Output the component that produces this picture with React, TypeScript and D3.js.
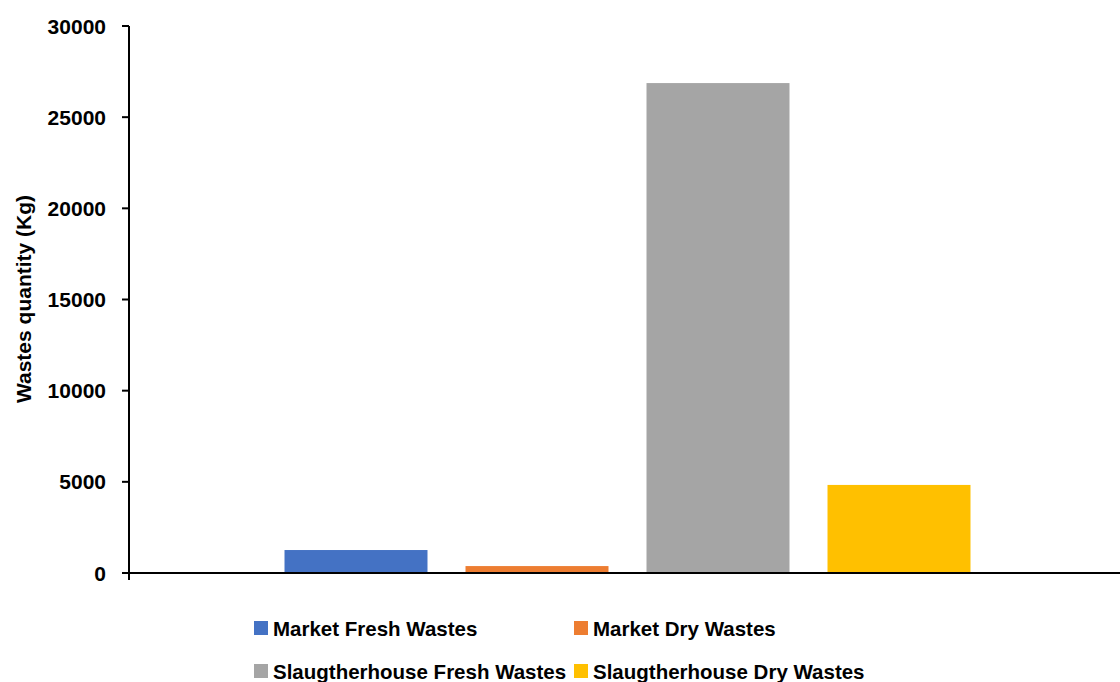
import React from "react";
import * as d3 from "d3";

const seriesNames = [
  "Market Fresh Wastes",
  "Market Dry Wastes",
  "Slaugtherhouse Fresh Wastes",
  "Slaugtherhouse Dry Wastes",
];
const seriesValues = [1260, 380, 26870, 4830];
const seriesColors = ["#4472C4", "#ED7D31", "#A5A5A5", "#FFC000"];
const yTicks = [0, 5000, 10000, 15000, 20000, 25000, 30000];

const W = 1120;
const H = 682;
const margin = { left: 129, right: 0, top: 26, bottom: 109 };
const FONT = "'Liberation Sans', Arial, sans-serif";
const FS = 21;
const LEGEND_FS = 20.5;

export default function App() {
  const plotBottom = H - margin.bottom;
  const y = d3.scaleLinear().domain([0, 30000]).range([plotBottom, margin.top]);
  const x = d3
    .scaleBand<string>()
    .domain(seriesNames)
    .range([margin.left + 6, W - margin.right])
    .paddingInner(0.21)
    .paddingOuter(0.826);

  const legendCols = [254, 574];
  const legendRows = [628, 671];

  return (
    <div style={{ position: "absolute", left: 0, top: 0 }}>
      <svg width={W} height={H} style={{ display: "block", background: "#fff" }}>
        {seriesNames.map((s, i) => (
          <rect
            key={s}
            x={x(s)}
            y={y(seriesValues[i])}
            width={x.bandwidth()}
            height={plotBottom - y(seriesValues[i])}
            fill={seriesColors[i]}
          />
        ))}
        {/* y axis */}
        <line x1={margin.left} x2={margin.left} y1={margin.top} y2={plotBottom + 7} stroke="#000" strokeWidth={2} />
        {yTicks.map((t) => (
          <g key={t}>
            <line x1={margin.left - 7} x2={margin.left} y1={y(t)} y2={y(t)} stroke="#000" strokeWidth={2} />
            <text
              x={106}
              y={y(t)}
              textAnchor="end"
              dominantBaseline="central"
              fontFamily={FONT}
              fontWeight="bold"
              fontSize={FS}
              fill="#000"
            >
              {t}
            </text>
          </g>
        ))}
        {/* x axis */}
        <line x1={margin.left - 7} x2={W} y1={plotBottom} y2={plotBottom} stroke="#000" strokeWidth={2} />
        <text
          transform={`translate(23, ${(185 + 413) / 2}) rotate(-90)`}
          textAnchor="middle"
          dominantBaseline="central"
          fontFamily={FONT}
          fontWeight="bold"
          fontSize={FS}
          fill="#000"
        >
          Wastes quantity (Kg)
        </text>
        {/* legend */}
        {seriesNames.map((s, i) => {
          const lx = legendCols[i % 2];
          const ly = legendRows[Math.floor(i / 2)];
          return (
            <g key={s}>
              <rect x={lx} y={ly - 7} width={14} height={14} fill={seriesColors[i]} />
              <text
                x={lx + 19}
                y={ly}
                dominantBaseline="central"
                fontFamily={FONT}
                fontWeight="bold"
                fontSize={LEGEND_FS}
                fill="#000"
              >
                {s}
              </text>
            </g>
          );
        })}
      </svg>
    </div>
  );
}
